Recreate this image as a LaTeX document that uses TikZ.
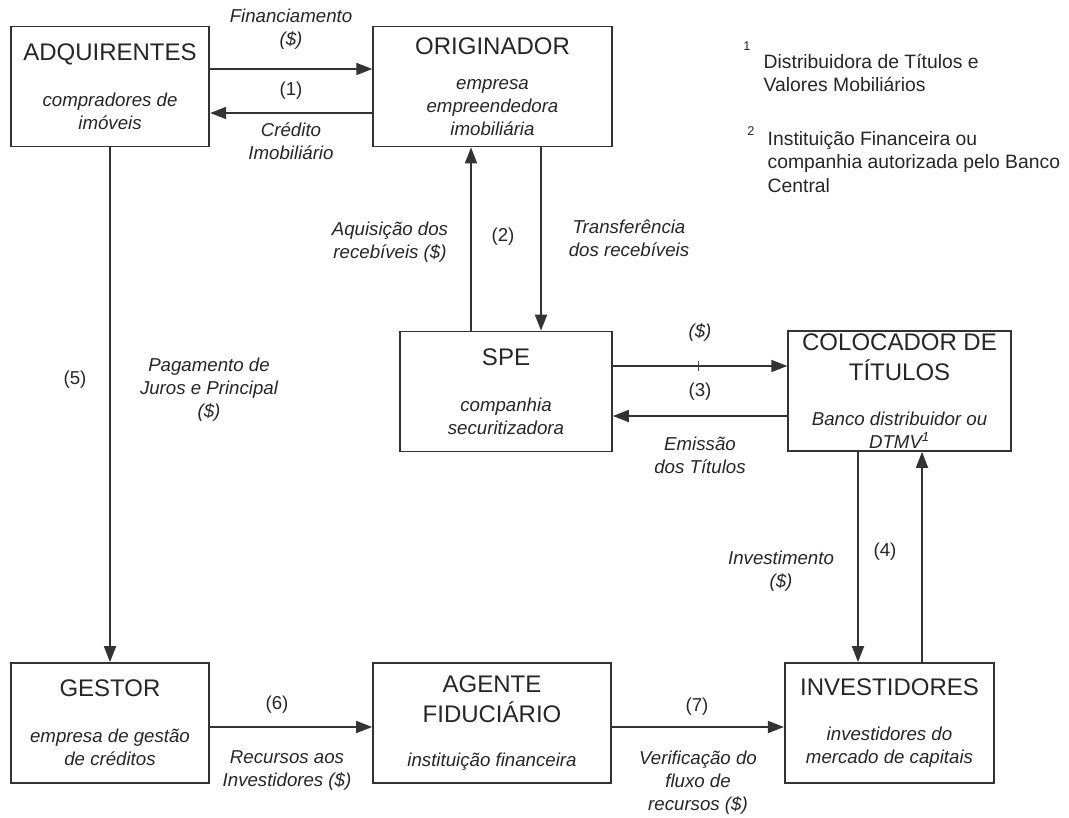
\documentclass[tikz,border=0pt]{standalone}
\usepackage{fontspec}
\setmainfont{Liberation Sans}
\usetikzlibrary{arrows.meta, positioning, calc}

\tikzset{
  entity/.style={draw=black!80, line width=1.3pt, minimum height=90pt, align=center,
    inner sep=1pt, text=black!85, font=\fontsize{14}{17.25}\selectfont\itshape},
  flow/.style={->, line width=1.3pt, draw=black!80},
  note/.style={align=center, text=black!85, font=\fontsize{14}{17.25}\selectfont\itshape},
  num/.style={text=black!85, font=\fontsize{14}{17}\selectfont},
  fnote/.style={align=left, anchor=west, text=black!85, font=\fontsize{14.5}{17.5}\selectfont},
  fmark/.style={text=black!85, font=\fontsize{9.5}{10}\selectfont}
}
\newcommand{\enttitle}[1]{{\upshape\fontsize{18}{22.5}\selectfont #1}}

\begin{document}
\begin{tikzpicture}[x=0.75pt, y=-0.75pt, >={Triangle[length=12pt, width=9pt]}]
\useasboundingbox (0,0) rectangle (1069,817);

% entidades
\node[entity, minimum width=149pt] (adq) at (110,86.5) {\enttitle{ADQUIRENTES}\\[17pt]compradores de\\imóveis};
\node[entity, minimum width=179pt] (orig) at (492.5,86.5) {\enttitle{ORIGINADOR}\\[9pt]empresa\\empreendedora\\imobiliária};
\node[entity, minimum width=159pt] (spe) at (506,391.5) {\enttitle{SPE}\\[17pt]companhia\\securitizadora};
\node[entity, minimum width=167pt] (coloc) at (899.5,391) {\enttitle{COLOCADOR DE}\\[5.25pt]\enttitle{TÍTULOS}\\[16pt]Banco distribuidor ou\\DTMV\textsuperscript{1}};
\node[entity, minimum width=149pt] (gestor) at (110,723) {\enttitle{GESTOR}\\[17pt]empresa de gestão\\de créditos};
\node[entity, minimum width=178.5pt] (agente) at (492,723) {\enttitle{AGENTE}\\[5.25pt]\enttitle{FIDUCIÁRIO}\\[16pt]instituição financeira};
\node[entity, minimum width=157pt] (inv) at (889.5,723) {\enttitle{INVESTIDORES}\\[17pt]investidores do\\mercado de capitais};

% linhas de referencia
\coordinate (r1a) at (0,69);
\coordinate (r1b) at (0,113);
\coordinate (r2up) at (471,0);
\coordinate (r2dn) at (541,0);
\coordinate (r3a) at (0,366);
\coordinate (r3b) at (0,416);
\coordinate (r4dn) at (858,0);
\coordinate (r4up) at (922,0);
\coordinate (r6) at (0,727);

% fluxos
\draw[flow] (adq.east |- r1a) -- (orig.west |- r1a);
\draw[flow] (orig.west |- r1b) -- (adq.east |- r1b);
\draw[flow] (spe.north -| r2up) -- (orig.south -| r2up);
\draw[flow] (orig.south -| r2dn) -- (spe.north -| r2dn);
\draw[flow] (spe.east |- r3a) -- (coloc.west |- r3a);
\draw[flow] (coloc.west |- r3b) -- (spe.east |- r3b);
\draw[flow] (coloc.south -| r4dn) -- (inv.north -| r4dn);
\draw[flow] (inv.north -| r4up) -- (coloc.south -| r4up);
\draw[flow] (adq) -- (gestor);
\draw[flow] (gestor.east |- r6) -- (agente.west |- r6);
\draw[flow] (agente.east |- r6) -- (inv.west |- r6);
\draw[black!70, line width=0.6pt] (698,361) -- (698,371);

% rotulos
\node[note] (lfin) at (291,29) {Financiamento\\(\$)};
\node[num] (n1) at (291,91) {(1)};
\node[note] (lcred) at (291,141.5) {Crédito\\Imobiliário};
\node[note] (laq) at (390,242) {Aquisição dos\\recebíveis (\$)};
\node[num] (n2) at (503,237) {(2)};
\node[note] (ltransf) at (629,238) {Transferência\\dos recebíveis};
\node[note] (lpay) at (700,333) {(\$)};
\node[num] (n3) at (700,392) {(3)};
\node[note] (lemis) at (700,455) {Emissão\\dos Títulos};
\node[num] (n5) at (75,380) {(5)};
\node[note] (lpag) at (209,390) {Pagamento de\\Juros e Principal\\(\$)};
\node[note] (linvest) at (781,571) {Investimento\\(\$)};
\node[num] (n4) at (885,552) {(4)};
\node[num] (n6) at (277,705) {(6)};
\node[note] (lrec) at (287,770) {Recursos aos\\Investidores (\$)};
\node[num] (n7) at (697,707) {(7)};
\node[note] (lverif) at (698,783) {Verificação do\\fluxo de\\recursos (\$)};

% notas
\node[fmark] (m1) at (747,46) {1};
\node[fnote] (fn1) at (759,73) {Distribuidora de Títulos e\\Valores Mobiliários};
\node[fmark] (m2) at (751,131) {2};
\node[fnote] (fn2) at (763,162) {Instituição Financeira ou\\companhia autorizada pelo Banco\\Central};
\end{tikzpicture}
\end{document}
